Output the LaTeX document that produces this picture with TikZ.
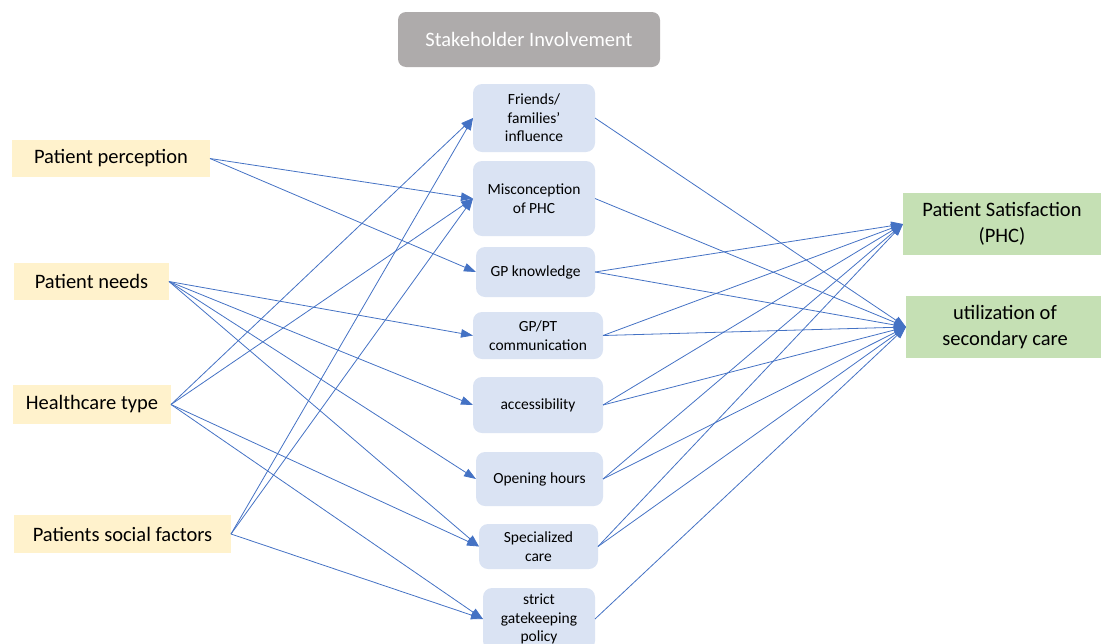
\documentclass[tikz,border=0pt]{standalone}
\usepackage{fontspec}
\setmainfont{Carlito}
\usetikzlibrary{arrows.meta}
\definecolor{factorfill}{HTML}{FFF2CC}
\definecolor{itemfill}{HTML}{DAE3F3}
\definecolor{outfill}{HTML}{C5E0B4}
\definecolor{headfill}{HTML}{AEABAB}
\definecolor{linkblue}{HTML}{4472C4}

\begin{document}
\begin{tikzpicture}[x=1pt, y=-1pt, font=\fontsize{15.5}{18.5}\selectfont, every node/.style={outer sep=0pt, inner sep=0pt, align=center},
        factor/.style={fill=factorfill, minimum height=37pt, font=\fontsize{20.5}{24}\selectfont},
        item/.style={fill=itemfill, rounded corners=9pt},
        outcome/.style={fill=outfill, minimum width=198pt, minimum height=62pt, font=\fontsize{20.5}{26}\selectfont},
        link/.style={draw=linkblue, line width=0.8pt, -{Triangle[length=12pt, width=8.5pt]}}]
        \useasboundingbox (0, 0) rectangle (1101, 643);

        \node[fill=headfill, rounded corners=8pt, minimum width=262pt, minimum height=55pt, text=white, font=\fontsize{20.5}{24}\selectfont] (stake) at (529, 39.5) {Stakeholder Involvement};

        \node[factor, minimum width=198pt] (perc) at (111, 158.5) {Patient perception};
        \node[factor, minimum width=155pt] (needs) at (91.5, 281.5) {Patient needs};
        \node[factor, minimum width=158pt, minimum height=39pt] (htype) at (92, 404.5) {Healthcare type};
        \node[factor, minimum width=217pt, minimum height=38pt] (social) at (122.5, 534) {Patients social factors};

        \node[item, minimum width=122pt, minimum height=68pt] (friends) at (534, 118) {Friends/\\families'\\influence};
        \node[item, minimum width=122pt, minimum height=75pt] (miscon) at (534, 198.5) {Misconception\\of PHC};
        \node[item, minimum width=119pt, minimum height=50pt] (gpk) at (535.5, 272) {GP knowledge};
        \node[item, minimum width=130pt, minimum height=47pt] (gppt) at (538, 335.5) {GP/PT\\communication};
        \node[item, minimum width=130pt, minimum height=56pt] (access) at (538, 405) {accessibility};
        \node[item, minimum width=127pt, minimum height=54pt] (open) at (539.5, 479) {Opening hours};
        \node[item, minimum width=119pt, minimum height=45pt] (spec) at (538.5, 546.5) {Specialized\\care};
        \node[item, minimum width=112pt, minimum height=62pt] (strict) at (539, 619) {strict\\gatekeeping\\policy};

        \node[outcome] (sat) at (1002, 224) {Patient Satisfaction\\(PHC)};
        \node[outcome] (util) at (1005, 327) {utilization of\\secondary care};

        % factors to stakeholder items
        \draw[link] (perc.east) -- (miscon.west);
        \draw[link] (perc.east) -- (gpk.west);
        \draw[link] (needs.east) -- (gppt.west);
        \draw[link] (needs.east) -- (access.west);
        \draw[link] (needs.east) -- (open.west);
        \draw[link] (needs.east) -- (spec.west);
        \draw[link] (htype.east) -- (friends.west);
        \draw[link] (htype.east) -- (miscon.west);
        \draw[link] (htype.east) -- (spec.west);
        \draw[link] (htype.east) -- (strict.west);
        \draw[link] (social.east) -- (friends.west);
        \draw[link] (social.east) -- (miscon.west);
        \draw[link] (social.east) -- (strict.west);

        % stakeholder items to outcomes
        \draw[link] (friends.east) -- (util.west);
        \draw[link] (miscon.east) -- (util.west);
        \draw[link] (gpk.east) -- (sat.west);
        \draw[link] (gpk.east) -- (util.west);
        \draw[link] (gppt.east) -- (sat.west);
        \draw[link] (gppt.east) -- (util.west);
        \draw[link] (access.east) -- (sat.west);
        \draw[link] (access.east) -- (util.west);
        \draw[link] (open.east) -- (sat.west);
        \draw[link] (open.east) -- (util.west);
        \draw[link] (spec.east) -- (sat.west);
        \draw[link] (spec.east) -- (util.west);
        \draw[link] (strict.east) -- (util.west);
    \end{tikzpicture}
\end{document}
